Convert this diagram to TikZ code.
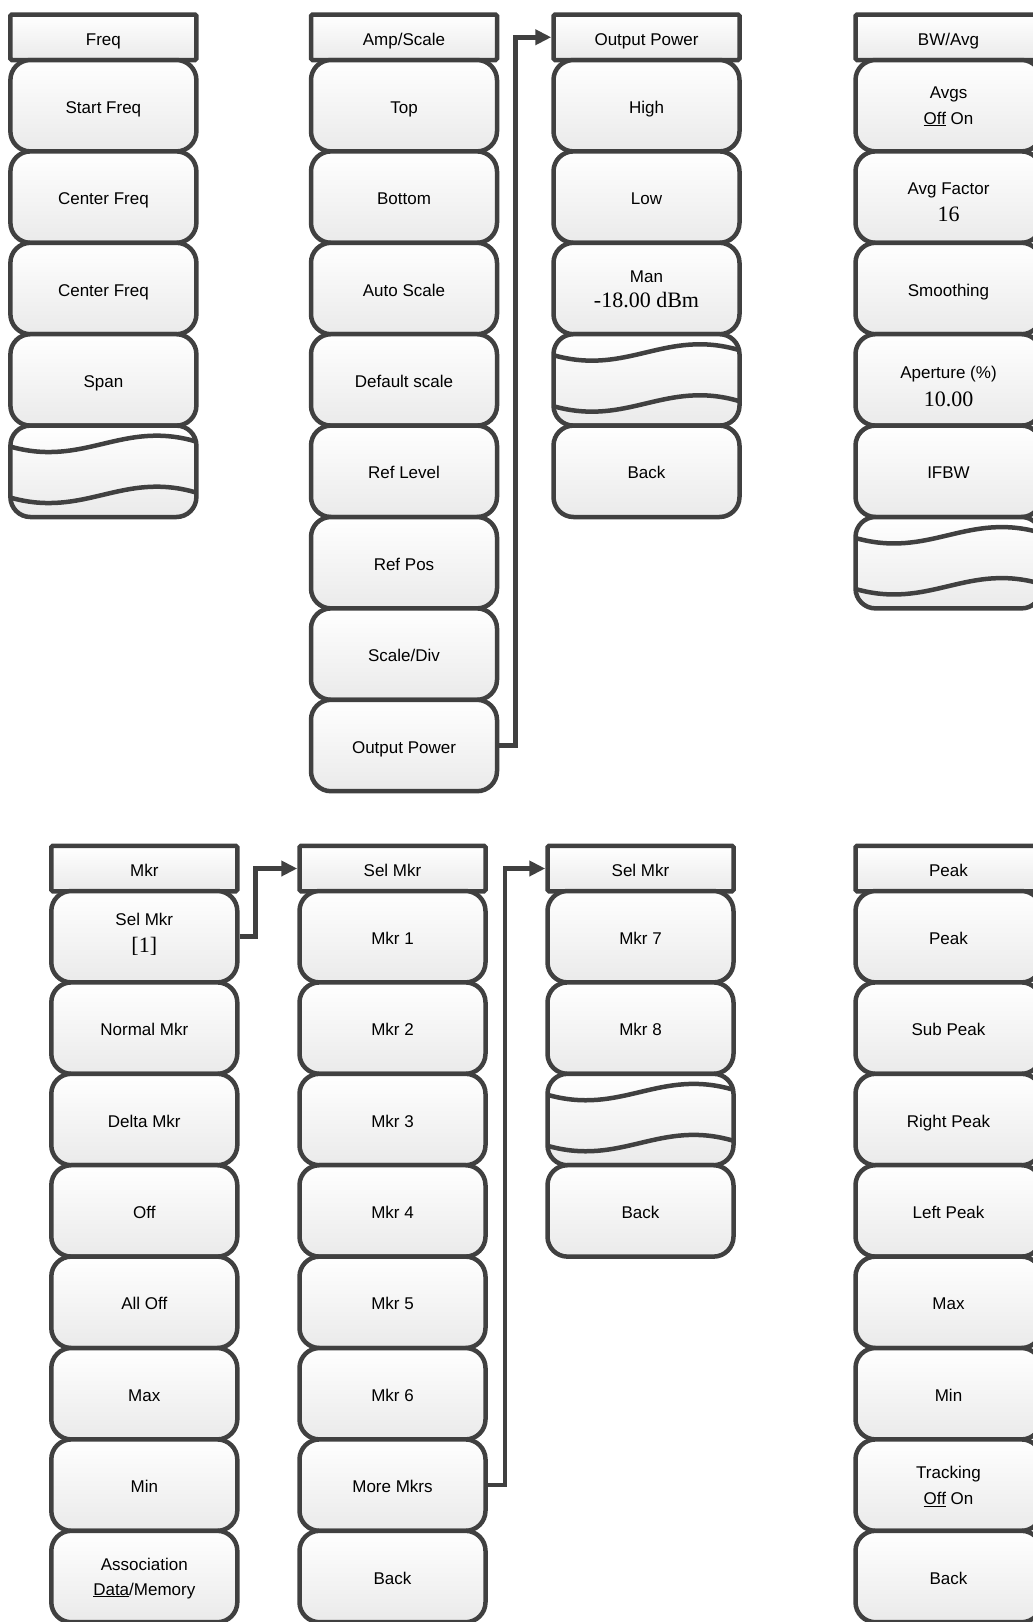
\documentclass[tikz,border=0pt]{standalone}
\usepackage{fontspec}
\setmainfont{Liberation Sans}
\newfontfamily\serifnum{Liberation Serif}
\usetikzlibrary{arrows.meta,calc}
\definecolor{ln}{HTML}{404040}
\definecolor{fl}{HTML}{EAEAEA}
\newcommand\wavebtn[3]{%
  \node[btn] (#1) at (#2,#3) {};
  \draw[wave] ($(#1.center)+(-93,-24.7)$) .. controls ($(#1.center)+(-18.6,-3.7)$) and ($(#1.center)+(18.6,-51.7)$) .. ($(#1.center)+(93,-29.7)$);
  \draw[wave] ($(#1.center)+(-93,26.3)$) .. controls ($(#1.center)+(-18.6,47.3)$) and ($(#1.center)+(18.6,-0.7)$) .. ($(#1.center)+(93,21.3)$);
}
\begin{document}
\begin{tikzpicture}[x=1pt,y=-1pt,
  btn/.style={draw=ln, line width=4.5pt, rounded corners=20pt, minimum width=186pt, minimum height=91.4pt, inner sep=0pt, top color=white, bottom color=fl, font=\fontsize{17}{20}\selectfont, text height=15.2pt, text depth=0pt},
  hdr/.style={draw=ln, line width=4.5pt, rounded corners=1.5pt, minimum width=186pt, minimum height=45.5pt, inner sep=0pt, top color=white, bottom color=fl, font=\fontsize{17}{20}\selectfont, text height=16.2pt, text depth=0pt},
  lbl/.style={inner sep=0pt, font=\fontsize{17}{20}\selectfont, text height=12.2pt, text depth=0pt},
  slbl/.style={inner sep=0pt, font=\serifnum\fontsize{22}{26}\selectfont, text height=14.9pt, text depth=0pt},
  conn/.style={draw=ln, line width=4.5pt, -{Triangle[length=16pt,width=15pt]}},
  wave/.style={draw=ln, line width=4.5pt}]
\useasboundingbox (0,0) rectangle (1033,1622);

% ---------- top section ----------
\node[hdr] (fh) at (103.4,37.25) {Freq};
\foreach \t [count=\i] in {Start Freq, Center Freq, Center Freq, Span}
  \node[btn] (f\i) at (103.4,{60+(\i-0.5)*91.4}) {\t};
\wavebtn{f5}{103.4}{471.3}

\node[hdr] (ah) at (404,37.25) {Amp/Scale};
\foreach \t [count=\i] in {Top, Bottom, Auto Scale, Default scale, Ref Level, Ref Pos, Scale/Div, Output Power}
  \node[btn] (a\i) at (404,{60+(\i-0.5)*91.4}) {\t};

\node[hdr] (oh) at (646.5,37.25) {Output Power};
\node[btn] (o1) at (646.5,105.7) {High};
\node[btn] (o2) at (646.5,197.1) {Low};
\node[btn, label={[lbl,yshift=12.4pt]center:Man}, label={[slbl,yshift=-11.4pt]center:-18.00 dBm}] (o3) at (646.5,288.5) {};
\wavebtn{o4}{646.5}{379.9}
\node[btn] (o5) at (646.5,471.3) {Back};

\node[hdr] (bh) at (948.5,37.25) {BW/Avg};
\node[btn, label={[lbl,yshift=13.5pt]center:Avgs}, label={[lbl,yshift=-12.2pt]center:\underline{Off} On}] (b1) at (948.5,105.7) {};
\node[btn, label={[lbl,yshift=9pt]center:Avg Factor}, label={[slbl,yshift=-17.1pt]center:16}] (b2) at (948.5,197.1) {};
\node[btn] (b3) at (948.5,288.5) {Smoothing};
\node[btn, label={[lbl,yshift=7.5pt]center:Aperture (\%)}, label={[slbl,yshift=-19.2pt]center:10.00}] (b4) at (948.5,379.9) {};
\node[btn] (b5) at (948.5,471.3) {IFBW};
\wavebtn{b6}{948.5}{562.7}

\draw[conn] (a8.east) -- ++(16,0) |- (oh.west);

% ---------- bottom section ----------
\node[hdr] (mh) at (144.3,868.5) {Mkr};
\node[btn, label={[lbl,yshift=17.6pt]center:Sel Mkr}, label={[slbl,yshift=-8.6pt]center:[1]}] (m1) at (144.3,936.7) {};
\foreach \t [count=\i from 2] in {Normal Mkr, Delta Mkr, Off, All Off, Max, Min}
  \node[btn] (m\i) at (144.3,{891+(\i-0.5)*91.4}) {\t};
\node[btn, label={[lbl,yshift=12.5pt]center:Association}, label={[lbl,yshift=-12.5pt]center:\underline{Data}/Memory}] (m8) at (144.3,1576.5) {};

\node[hdr] (sh) at (392.5,868.5) {Sel Mkr};
\foreach \t [count=\i] in {Mkr 1, Mkr 2, Mkr 3, Mkr 4, Mkr 5, Mkr 6, More Mkrs, Back}
  \node[btn] (s\i) at (392.5,{891+(\i-0.5)*91.4}) {\t};

\node[hdr] (th) at (640.5,868.5) {Sel Mkr};
\node[btn] (t1) at (640.5,936.7) {Mkr 7};
\node[btn] (t2) at (640.5,1028.1) {Mkr 8};
\wavebtn{t3}{640.5}{1119.5}
\node[btn] (t4) at (640.5,1210.9) {Back};

\node[hdr] (ph) at (948.5,868.5) {Peak};
\foreach \t [count=\i] in {Peak, Sub Peak, Right Peak, Left Peak, Max, Min}
  \node[btn] (p\i) at (948.5,{891+(\i-0.5)*91.4}) {\t};
\node[btn, label={[lbl,yshift=13pt]center:Tracking}, label={[lbl,yshift=-13.1pt]center:\underline{Off} On}] (p7) at (948.5,1485.1) {};
\node[btn] (p8) at (948.5,1576.5) {Back};

\draw[conn] (m1.east) -- ++(16,0) |- (sh.west);
\draw[conn] (s7.east) -- ++(17,0) |- (th.west);
\end{tikzpicture}
\end{document}
